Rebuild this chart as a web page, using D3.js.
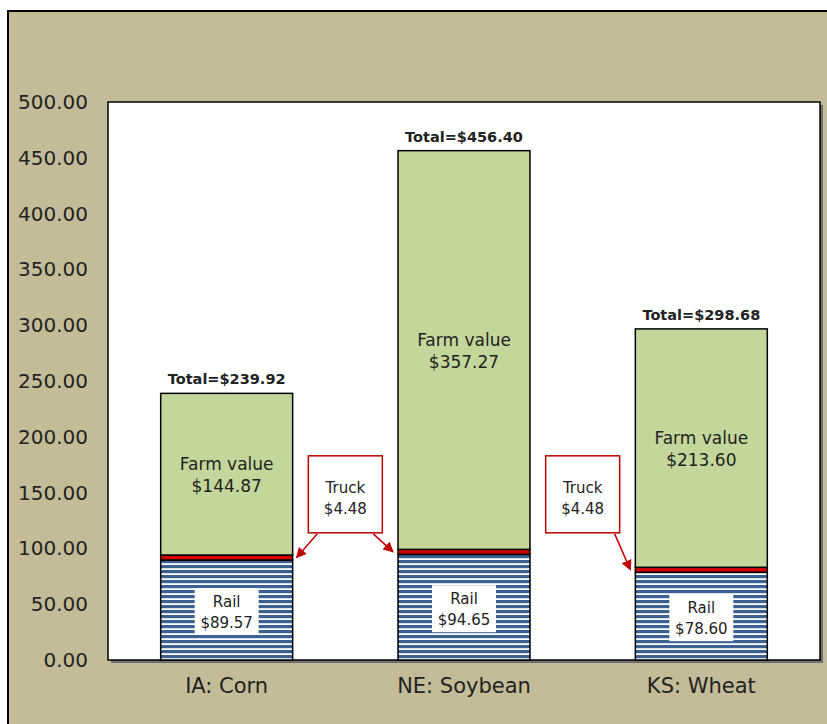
<!DOCTYPE html>
<html>
<head>
<meta charset="utf-8">
<script src="https://cdn.jsdelivr.net/npm/d3@7"></script>
<style>
  body { margin: 0; background: #fff; }
  svg text { font-family: "DejaVu Sans", sans-serif; fill: #222; }
</style>
</head>
<body>
<div id="container"></div>
<script>
/* CONSTANTS AND GLOBALS */
const width = 827,
  height = 724,
  margin = { top: 102, bottom: 64, left: 108, right: 7 }

/* DATA */
const categories = ["IA: Corn", "NE: Soybean", "KS: Wheat"]
const railValues = [89.57, 94.65, 78.60]
const truckValues = [4.48, 4.48, 4.48]
const farmValues = [144.87, 357.27, 213.60]
const totalValues = [239.92, 456.40, 298.68]
const yTicks = [0, 50, 100, 150, 200, 250, 300, 350, 400, 450, 500]
const truckLabel = 4.48
const calloutLevel = 148

const data = categories.map((c, i) => ({
  cat: c,
  rail: railValues[i],
  truck: truckValues[i],
  farm: farmValues[i],
  total: totalValues[i]
}))

// SCALES
const xScale = d3.scaleBand()
  .domain(categories)
  .range([margin.left, width - margin.right])
  .paddingInner(0.444)
  .paddingOuter(0.222)

const yScale = d3.scaleLinear()
  .domain([0, 500])
  .range([height - margin.bottom, margin.top])

// SVG
const svg = d3.select("#container")
  .append("svg")
  .attr("width", width)
  .attr("height", height)

const defs = svg.append("defs")
const pat = defs.append("pattern")
  .attr("id", "railPattern")
  .attr("patternUnits", "userSpaceOnUse")
  .attr("width", 8)
  .attr("height", 5)
pat.append("rect").attr("width", 8).attr("height", 5).attr("fill", "#fff")
pat.append("rect").attr("width", 8).attr("height", 3.2).attr("fill", "#3a6191")

const arrow = defs.append("marker")
  .attr("id", "arrowHead")
  .attr("viewBox", "0 0 10 10")
  .attr("refX", 9).attr("refY", 5)
  .attr("markerWidth", 7).attr("markerHeight", 7)
  .attr("orient", "auto")
arrow.append("path").attr("d", "M0,0L10,5L0,10Z").attr("fill", "#c00000")

// outer frame
svg.append("rect")
  .attr("x", 10).attr("y", 13)
  .attr("width", width).attr("height", height)
  .attr("fill", "#7f7f7f")
svg.append("rect")
  .attr("x", 8).attr("y", 11)
  .attr("width", width).attr("height", height)
  .attr("fill", "#c4bc98")
  .attr("stroke", "#000")
  .attr("stroke-width", 2)

// plot area
const pw = width - margin.right - margin.left,
  ph = height - margin.bottom - margin.top
svg.append("rect")
  .attr("x", margin.left + 3).attr("y", margin.top + 3)
  .attr("width", pw).attr("height", ph)
  .attr("fill", "#6f6f6f")
svg.append("rect")
  .attr("x", margin.left).attr("y", margin.top)
  .attr("width", pw).attr("height", ph)
  .attr("fill", "#fff")
  .attr("stroke", "#000")
  .attr("stroke-width", 1.5)

// AXES
const yAxis = d3.axisLeft(yScale)
  .tickValues(yTicks)
  .tickSize(0)
  .tickPadding(20)
  .tickFormat(d3.format(".2f"))
svg.append("g")
  .attr("class", "yAxis")
  .attr("transform", `translate(${margin.left},0)`)
  .call(yAxis)
  .call(g => g.select(".domain").remove())
  .selectAll("text")
  .style("font-size", "20px")
  .attr("fill", "#222")

const xAxis = d3.axisBottom(xScale).tickSize(0).tickPadding(18)
svg.append("g")
  .attr("class", "xAxis")
  .attr("transform", `translate(0,${height - margin.bottom})`)
  .call(xAxis)
  .call(g => g.select(".domain").remove())
  .selectAll("text")
  .style("font-size", "21px")
  .attr("fill", "#222")

// BARS
const bw = xScale.bandwidth()
const bars = svg.selectAll(".bar")
  .data(data)
  .join("g")
  .attr("class", "bar")

bars.append("rect")
  .attr("x", d => xScale(d.cat))
  .attr("y", d => yScale(d.rail))
  .attr("width", bw)
  .attr("height", d => yScale(0) - yScale(d.rail))
  .attr("fill", "url(#railPattern)")
  .attr("stroke", "#000")
  .attr("stroke-width", 1.5)

bars.append("rect")
  .attr("x", d => xScale(d.cat))
  .attr("y", d => yScale(d.rail + d.truck))
  .attr("width", bw)
  .attr("height", d => yScale(d.rail) - yScale(d.rail + d.truck))
  .attr("fill", "#d40000")
  .attr("stroke", "#000")
  .attr("stroke-width", 1.5)

bars.append("rect")
  .attr("x", d => xScale(d.cat))
  .attr("y", d => yScale(d.rail + d.truck + d.farm))
  .attr("width", bw)
  .attr("height", d => yScale(d.rail + d.truck) - yScale(d.rail + d.truck + d.farm))
  .attr("fill", "#c4d79b")
  .attr("stroke", "#000")
  .attr("stroke-width", 1.5)

// rail labels
const railLab = bars.append("g")
  .attr("transform", d => `translate(${xScale(d.cat) + bw / 2},${yScale(d.rail / 2) + 3})`)
railLab.append("rect")
  .attr("x", -32).attr("y", -25)
  .attr("width", 64).attr("height", 47)
  .attr("fill", "#fff")
railLab.append("text")
  .attr("text-anchor", "middle")
  .attr("y", -6)
  .style("font-size", "15px")
  .text("Rail")
railLab.append("text")
  .attr("text-anchor", "middle")
  .attr("y", 15)
  .style("font-size", "15px")
  .text(d => "$" + d3.format(".2f")(d.rail))

// farm labels
const farmLab = bars.append("g")
  .attr("transform", d => `translate(${xScale(d.cat) + bw / 2},${yScale(d.rail + d.truck + d.farm / 2)})`)
farmLab.append("text")
  .attr("text-anchor", "middle")
  .attr("y", -4)
  .style("font-size", "17px")
  .text("Farm value")
farmLab.append("text")
  .attr("text-anchor", "middle")
  .attr("y", 18)
  .style("font-size", "17px")
  .text(d => "$" + d3.format(".2f")(d.farm))

// totals
bars.append("text")
  .attr("x", d => xScale(d.cat) + bw / 2)
  .attr("y", d => yScale(d.rail + d.truck + d.farm) - 9)
  .attr("text-anchor", "middle")
  .style("font-size", "14.5px")
  .style("font-weight", "bold")
  .attr("fill", "#000")
  .text(d => "Total=$" + d3.format(".2f")(d.total))

// TRUCK CALLOUTS
const callouts = [
  { left: 0, right: 1, targets: [[0, "right"], [1, "left"]] },
  { left: 1, right: 2, targets: [[2, "left"]] }
]
callouts.forEach(c => {
  const cx = (xScale(categories[c.left]) + bw + xScale(categories[c.right])) / 2
  const cy = yScale(calloutLevel)
  const g = svg.append("g").attr("transform", `translate(${cx},${cy})`)
  g.append("rect")
    .attr("x", -37).attr("y", -39)
    .attr("width", 74).attr("height", 77)
    .attr("fill", "#fff")
    .attr("stroke", "#c00000")
    .attr("stroke-width", 1.5)
  g.append("text").attr("text-anchor", "middle").attr("y", -2)
    .style("font-size", "15px").text("Truck")
  g.append("text").attr("text-anchor", "middle").attr("y", 19)
    .style("font-size", "15px").text("$" + d3.format(".2f")(truckLabel))

  c.targets.forEach(([i, side]) => {
    const d = data[i]
    const tx = side === "right" ? xScale(d.cat) + bw + 4 : xScale(d.cat) - 5
    const ty = yScale(d.rail + d.truck / 2)
    const sx = side === "right" ? cx - 28 : cx + 28
    const sxx = c.targets.length === 1 ? cx + 32 : sx
    svg.append("line")
      .attr("x1", sxx).attr("y1", cy + 39)
      .attr("x2", tx).attr("y2", ty)
      .attr("stroke", "#c00000")
      .attr("stroke-width", 1.5)
      .attr("marker-end", "url(#arrowHead)")
  })
})
</script>
</body>
</html>
